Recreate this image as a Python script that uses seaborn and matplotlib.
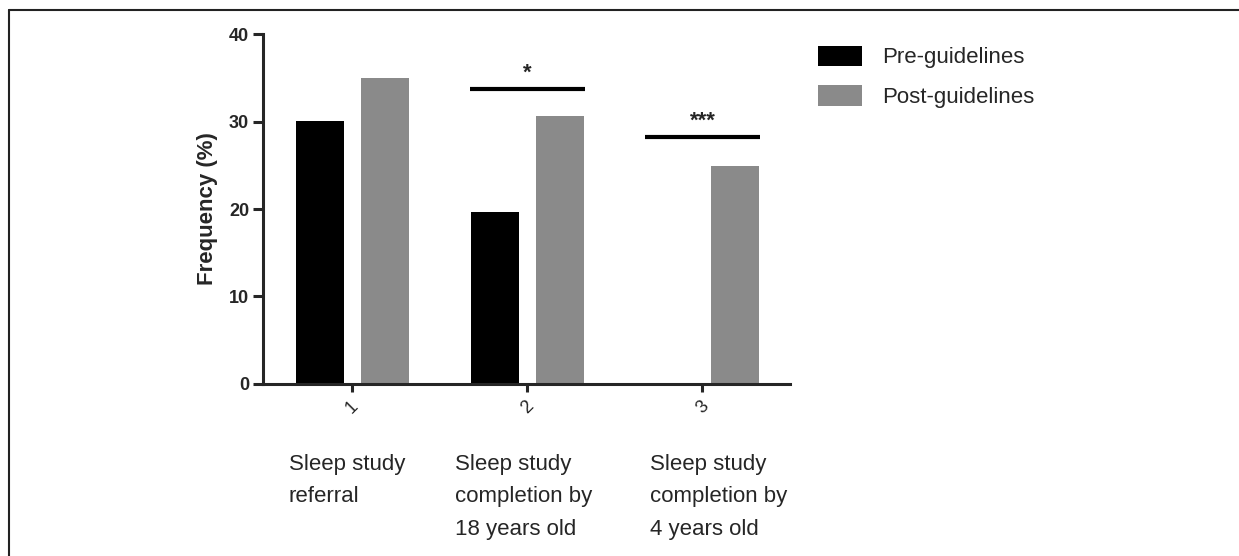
import pandas as pd
import matplotlib.pyplot as plt
import seaborn as sns

# data
groups = ['1', '2', '3']
group_names = ['Sleep study\nreferral',
               'Sleep study\ncompletion by\n18 years old',
               'Sleep study\ncompletion by\n4 years old']
pre_vals = [30.1, 19.6, 0.0]
post_vals = [35.0, 30.6, 24.9]
series = ['Pre-guidelines', 'Post-guidelines']

# significance brackets: group index, bar height, label
sig_groups = [1, 2]
sig_heights = [33.7, 28.2]
sig_labels = ['*', '***']

df = pd.DataFrame({
    'group': groups * 2,
    'period': [series[0]] * 3 + [series[1]] * 3,
    'freq': pre_vals + post_vals,
})

sns.set_style('ticks')
plt.rcParams['font.family'] = ['Liberation Sans', 'DejaVu Sans']

fig = plt.figure(figsize=(12.39, 5.56), dpi=100)
ax = fig.add_axes([0.2123, 0.3094, 0.4253, 0.6294])

sns.barplot(data=df, x='group', y='freq', hue='period', order=groups,
            hue_order=series, palette={series[0]: 'black', series[1]: '#8a8a8a'},
            width=0.74, gap=0.26, linewidth=0, errorbar=None, ax=ax)

ax.set_ylim(0, 40)
ax.set_xlim(-0.51, 2.5)
ax.set_yticks([0, 10, 20, 30, 40])
ax.set_ylabel('Frequency (%)', fontsize=16, fontweight='bold', labelpad=8)
ax.set_xlabel('')
for t in ax.get_yticklabels():
    t.set_fontweight('bold')
    t.set_fontsize(13)
ax.tick_params(axis='y', length=7, width=2.2, pad=3)
ax.tick_params(axis='x', length=6, width=2.2, pad=4, labelsize=13, labelrotation=45)
for s in ['left', 'bottom']:
    ax.spines[s].set_linewidth(2.2)
sns.despine(ax=ax)

# multi-line category names under the rotated tick numbers
name_offsets = [-0.03, -0.02, 0.09]
for i, name in enumerate(group_names):
    ax.text(i + name_offsets[i], -0.2, name, transform=ax.get_xaxis_transform(),
            ha='center', va='top', multialignment='left', fontsize=16,
            linespacing=1.72)

# significance bars and stars
for g, h, lab in zip(sig_groups, sig_heights, sig_labels):
    ax.plot([g - 0.33, g + 0.33], [h, h], color='black', lw=3,
            solid_capstyle='butt', clip_on=False)
    ax.text(g, h + 1.2, lab, ha='center', va='baseline', fontsize=16,
            fontweight='bold', clip_on=False)

ax.legend(loc='upper left', bbox_to_anchor=(0.66, 0.918),
          bbox_transform=fig.transFigure, frameon=False, fontsize=16,
          handlelength=2.0, handleheight=1.05, handletextpad=0.9,
          labelspacing=0.75, borderpad=0, borderaxespad=0)

# partial frame around the figure (top and left edges)
fig.add_artist(plt.Line2D([9 / 1239, 1], [1 - 9.5 / 556] * 2, color='#222222',
                          lw=1.5, transform=fig.transFigure))
fig.add_artist(plt.Line2D([9 / 1239] * 2, [0, 1 - 9.5 / 556], color='#222222',
                          lw=1.5, transform=fig.transFigure))

plt.savefig('out.png', dpi=100)
